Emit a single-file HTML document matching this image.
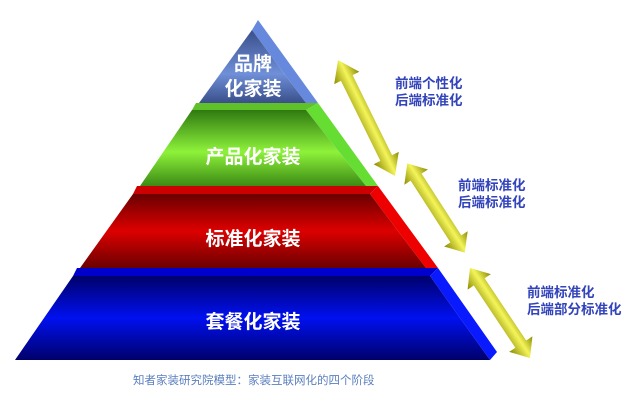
<!DOCTYPE html>
<html><head><meta charset="utf-8"><style>
html,body{margin:0;padding:0;background:#fff;width:637px;height:405px;overflow:hidden}
svg{display:block}
text{font-family:"Liberation Sans","Noto Sans CJK SC",sans-serif}
</style></head><body>
<svg width="637" height="405" viewBox="0 0 637 405">
<defs>
<linearGradient id="gt" x1="0" y1="0" x2="0" y2="1"><stop offset="0" stop-color="#3a4f8a"/><stop offset="0.6" stop-color="#6f8fd8"/><stop offset="1" stop-color="#3a4f8a"/></linearGradient>
<linearGradient id="gg" x1="0" y1="0" x2="0" y2="1"><stop offset="0" stop-color="#2f7a10"/><stop offset="0.55" stop-color="#8ef23a"/><stop offset="1" stop-color="#3b8a14"/></linearGradient>
<linearGradient id="gr" x1="0" y1="0" x2="0" y2="1"><stop offset="0" stop-color="#6a0000"/><stop offset="0.5" stop-color="#dd0000"/><stop offset="1" stop-color="#6a0000"/></linearGradient>
<linearGradient id="gb" x1="0" y1="0" x2="0" y2="1"><stop offset="0" stop-color="#00006a"/><stop offset="0.5" stop-color="#0010f0"/><stop offset="1" stop-color="#00006a"/></linearGradient>
<linearGradient id="ga" x1="0" y1="0" x2="0" y2="1"><stop offset="0" stop-color="#8a8a00"/><stop offset="0.45" stop-color="#f4f45a"/><stop offset="1" stop-color="#8a8a00"/></linearGradient>
<g id="arr"><polygon points="-52,0 -36,-14 -36,-6.5 36,-6.5 36,-14 52,0 36,14 36,6.5 -36,6.5 -36,14" fill="url(#ga)"/></g>
</defs>
<polygon points="258,20 318,103 306,103 252,30" fill="#6688dd"/>
<polygon points="252,30 306,103 199,103" fill="url(#gt)"/>
<polygon points="196,103 318,103 306,110 192,110" fill="#5fc02a"/>
<polygon points="318,103 378,186 366,186 306,110" fill="#66dd33"/>
<polygon points="192,110 306,110 366,186 140,186" fill="url(#gg)"/>
<polygon points="137,186 378,186 370,194 133,194" fill="#cc0000"/>
<polygon points="378,186 438,268 426,268 370,194" fill="#ee0000"/>
<polygon points="133,194 370,194 426,268 80,268" fill="url(#gr)"/>
<polygon points="77,268 438,268 430,276 73,276" fill="#0000cc"/>
<polygon points="438,268 497,352 490,360 430,276" fill="#0a1aff"/>
<polygon points="73,276 430,276 490,360 15,360" fill="url(#gb)"/>
<g fill="#fff" font-size="19" font-weight="bold" text-anchor="middle">
<text x="253" y="70">品牌</text>
<text x="253" y="95">化家装</text>
<text x="253" y="163">产品化家装</text>
<text x="253" y="245">标准化家装</text>
<text x="253" y="328">套餐化家装</text>
</g>
<use href="#arr" transform="translate(366.5,118) rotate(63.8) scale(1.24,1)"/>
<use href="#arr" transform="translate(436,208) rotate(57.2) scale(1.02,1)"/>
<use href="#arr" transform="translate(500,313) rotate(56.3) scale(1.04,1)"/>
<g fill="#3344bb" font-size="13.5" font-weight="bold">
<text x="395" y="88">前端个性化</text>
<text x="395" y="105">后端标准化</text>
<text x="458" y="190">前端标准化</text>
<text x="458" y="207">后端标准化</text>
<text x="527" y="297">前端标准化</text>
<text x="527" y="314">后端部分标准化</text>
</g>
<text x="133" y="384" fill="#5b7fbf" font-size="11.5">知者家装研究院模型：家装互联网化的四个阶段</text>
</svg>
</body></html>
